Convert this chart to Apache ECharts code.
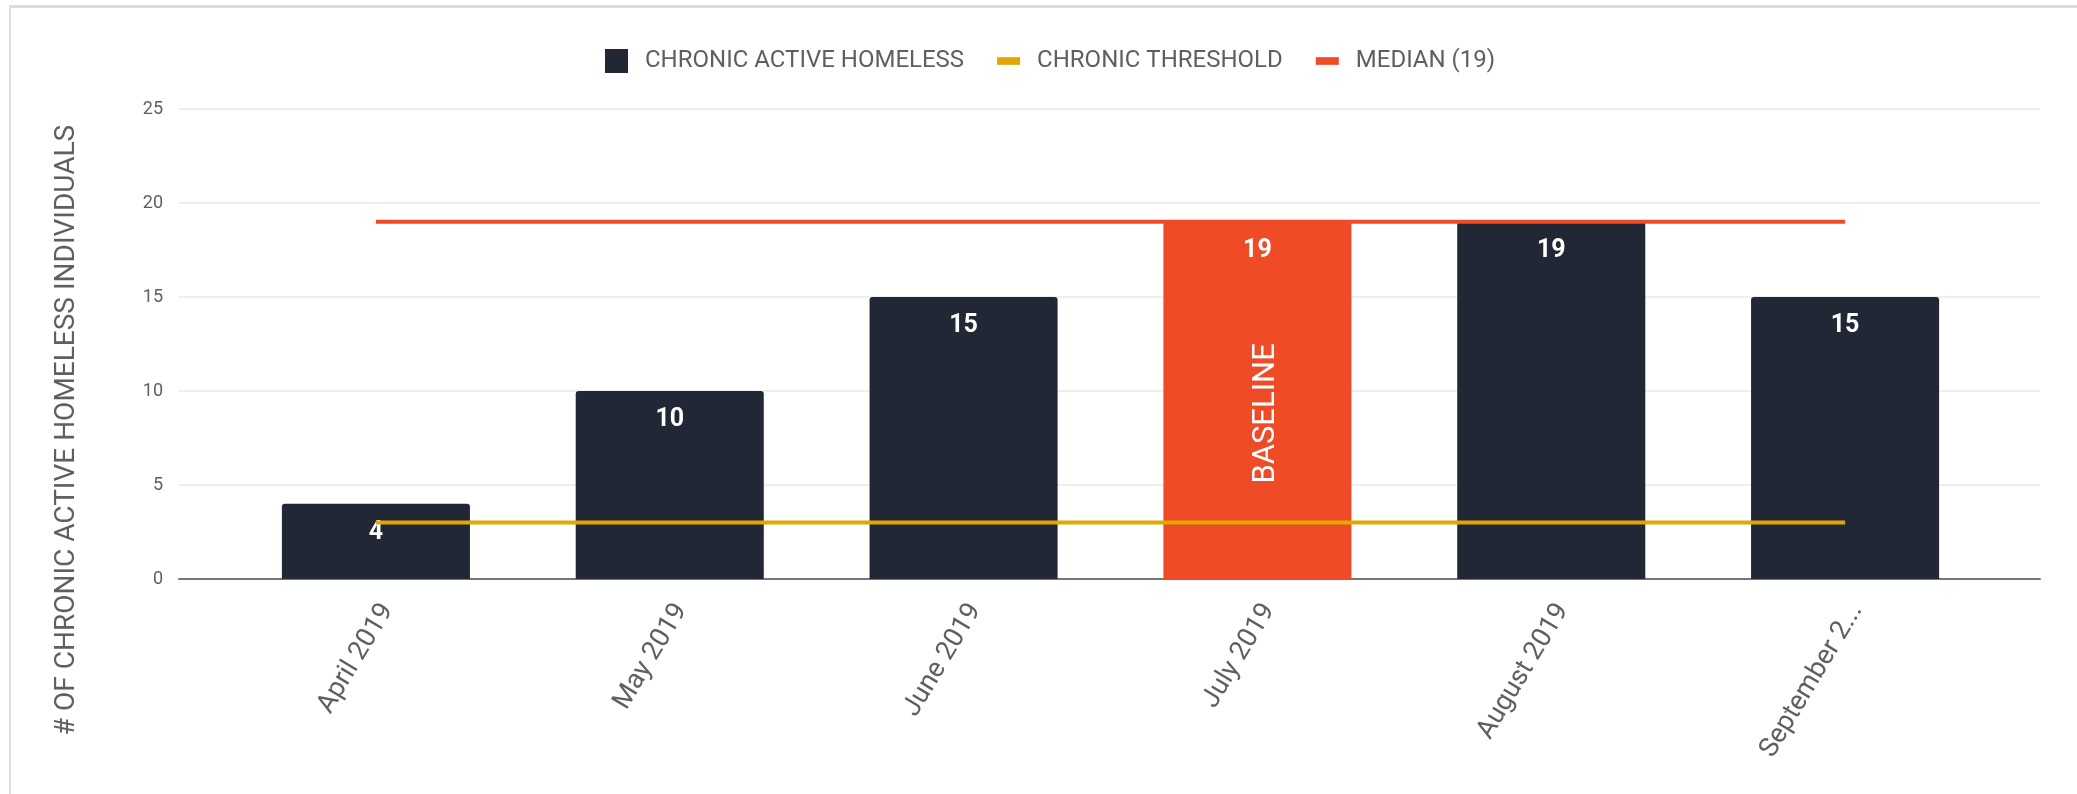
<!DOCTYPE html>
<html>
<head>
<meta charset="utf-8">
<script src="https://cdn.jsdelivr.net/npm/echarts@6/dist/echarts.min.js"></script>
<style>
  html, body { margin: 0; padding: 0; background: #fff; }
  #chart { width: 2077px; height: 794px; position: absolute; left: 0; top: 0; }
  #card { position: absolute; left: 9px; top: 5px; right: 0; bottom: 0;
          border-top: 3px solid #dcdcdc; border-left: 2px solid #dcdcdc; }
</style>
</head>
<body>
<div id="card"></div>
<div id="chart"></div>
<script>
// months shown on the x axis
const categories = ['April 2019', 'May 2019', 'June 2019', 'July 2019', 'August 2019', 'September 2019']
// bar values
const chronicActive = [4, 10, 15, 19, 19, 15]
// flat reference lines
const chronicThreshold = [3, 3, 3, 3, 3, 3]
const median = [19, 19, 19, 19, 19, 19]
const baselineMonth = 'July 2019'
const yMax = 25
const yStep = 5

const DARK = '#222736'
const ORANGE = '#EF4B27'
const GOLD = '#E0A800'
const TEXT = '#5f5f5f'
const FONT = 'Roboto'

const chart = echarts.init(document.getElementById('chart'), null, { renderer: 'canvas' })

const barData = chronicActive.map((v, i) => ({
  value: v,
  itemStyle: { color: categories[i] === baselineMonth ? ORANGE : DARK, borderRadius: [3, 3, 0, 0] }
}))
// overlay bar carrying the vertical "BASELINE" text
const baselineData = chronicActive.map((v, i) => (categories[i] === baselineMonth ? v : null))

const option = {
  animation: false,
  textStyle: { fontFamily: FONT },
  legend: {
    top: 44,
    left: 600,
    itemGap: 33,
    itemWidth: 23,
    itemHeight: 24,
    textStyle: { color: TEXT, fontSize: 24, fontFamily: FONT, padding: [0, 0, 0, 12] },
    data: [
      { name: 'CHRONIC ACTIVE HOMELESS', icon: 'rect', itemStyle: { color: DARK, borderRadius: 2 } },
      { name: 'CHRONIC THRESHOLD', icon: 'path://M0,0 H18 V6 H0 Z', itemStyle: { color: GOLD } },
      { name: 'MEDIAN (19)', icon: 'path://M0,0 H18 V6 H0 Z', itemStyle: { color: ORANGE } }
    ]
  },
  grid: [
    // background grid: split lines and axis line run wider than the bars
    { left: 179, right: 37, top: 109, bottom: 215 },
    // grid holding the categories
    { left: 229, right: 85, top: 109, bottom: 215 }
  ],
  xAxis: [
    {
      type: 'value',
      gridIndex: 0,
      min: 0,
      max: 1,
      axisLine: { show: true, lineStyle: { color: '#777', width: 2 } },
      axisTick: { show: false },
      axisLabel: { show: false },
      splitLine: { show: false }
    },
    {
      type: 'category',
      gridIndex: 1,
      data: categories,
      axisLine: { show: false },
      axisTick: { show: false },
      axisLabel: {
        rotate: 59,
        margin: 20,
        verticalAlign: 'top',
        color: TEXT,
        fontSize: 27,
        fontFamily: FONT,
        width: 186,
        overflow: 'truncate',
        ellipsis: '...'
      }
    }
  ],
  yAxis: [
    {
      type: 'value',
      gridIndex: 0,
      min: 0,
      max: yMax,
      interval: yStep,
      name: '# OF CHRONIC ACTIVE HOMELESS INDIVIDUALS',
      nameLocation: 'middle',
      nameGap: 98,
      nameTextStyle: { color: TEXT, fontSize: 28, fontFamily: FONT, padding: [0, 172, 0, 0] },
      axisLine: { show: false },
      axisTick: { show: false },
      axisLabel: { color: TEXT, fontSize: 18, margin: 16 },
      splitLine: { lineStyle: { color: '#eeeeee', width: 2 } }
    },
    {
      type: 'value',
      gridIndex: 1,
      min: 0,
      max: yMax,
      interval: yStep,
      show: false,
      splitLine: { show: false }
    }
  ],
  series: [
    {
      name: 'CHRONIC ACTIVE HOMELESS',
      type: 'bar',
      xAxisIndex: 1,
      yAxisIndex: 1,
      barWidth: '64%',
      data: barData,
      label: {
        show: true,
        position: 'insideTop',
        distance: 16,
        color: '#fff',
        fontSize: 25,
        fontWeight: 'bold',
        fontFamily: FONT
      },
      z: 2
    },
    {
      name: 'baseline',
      type: 'bar',
      xAxisIndex: 1,
      yAxisIndex: 1,
      barWidth: '64%',
      barGap: '-100%',
      data: baselineData,
      itemStyle: { color: 'rgba(0,0,0,0)' },
      label: {
        show: true,
        position: 'inside',
        rotate: 90,
        offset: [-13, 9],
        formatter: 'BASELINE',
        color: '#fff',
        fontSize: 31,
        fontFamily: FONT
      },
      z: 3
    },
    {
      name: 'CHRONIC THRESHOLD',
      type: 'line',
      xAxisIndex: 1,
      yAxisIndex: 1,
      data: chronicThreshold,
      symbol: 'none',
      lineStyle: { color: GOLD, width: 4 },
      itemStyle: { color: GOLD },
      z: 5
    },
    {
      name: 'MEDIAN (19)',
      type: 'line',
      xAxisIndex: 1,
      yAxisIndex: 1,
      data: median,
      symbol: 'none',
      lineStyle: { color: ORANGE, width: 4 },
      itemStyle: { color: ORANGE },
      z: 5
    }
  ]
}

chart.setOption(option)
</script>
</body>
</html>
